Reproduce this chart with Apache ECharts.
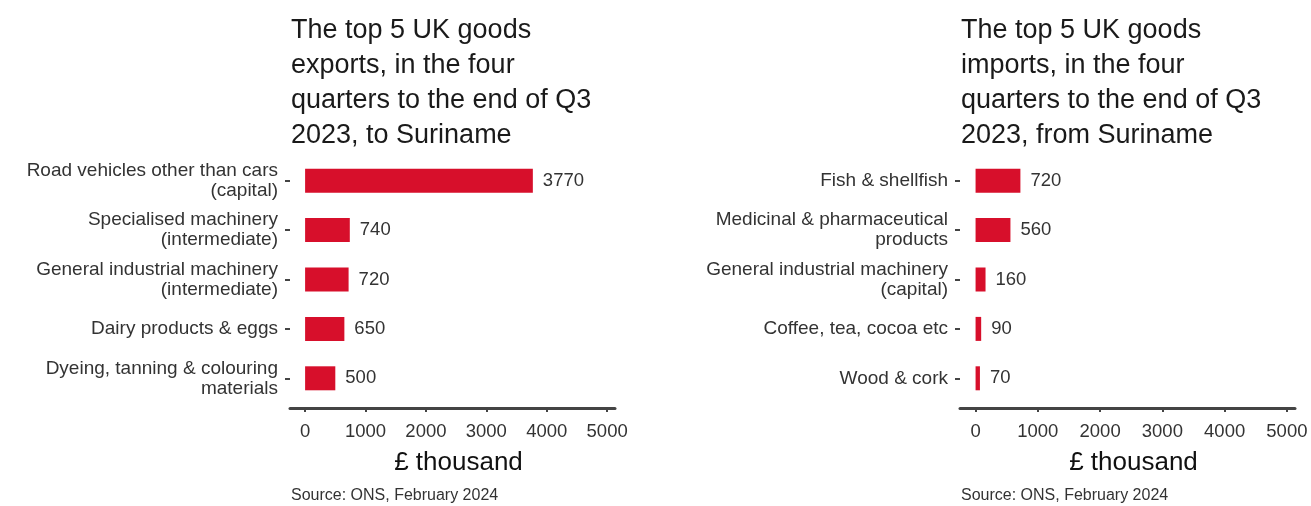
<!DOCTYPE html>
<html>
<head>
<meta charset="utf-8">
<script src="https://cdn.jsdelivr.net/npm/echarts@6/dist/echarts.min.js"></script>
<style>
  html, body { margin: 0; padding: 0; background: #fff; }
  #chart { width: 1311px; height: 506px; }
</style>
</head>
<body>
<div id="chart"></div>
<script>
// exports (left panel)
const exportCategories = [
  'Road vehicles other than cars\n(capital)',
  'Specialised machinery\n(intermediate)',
  'General industrial machinery\n(intermediate)',
  'Dairy products & eggs',
  'Dyeing, tanning & colouring\nmaterials'
];
const exportValues = [3770, 740, 720, 650, 500];

// imports (right panel)
const importCategories = [
  'Fish & shellfish',
  'Medicinal & pharmaceutical\nproducts',
  'General industrial machinery\n(capital)',
  'Coffee, tea, cocoa etc',
  'Wood & cork'
];
const importValues = [720, 560, 160, 90, 70];

const tickValues = [0, 1000, 2000, 3000, 4000, 5000];
const axisTitle = '£ thousand';
const exportTitle = 'The top 5 UK goods\nexports, in the four\nquarters to the end of Q3\n2023, to Suriname';
const importTitle = 'The top 5 UK goods\nimports, in the four\nquarters to the end of Q3\n2023, from Suriname';
const sourceText = 'Source: ONS, February 2024';

const FONT = '"Liberation Sans", Arial, sans-serif';
const RED = '#d70f2b';

function valueAxis(gridIndex) {
  return {
    type: 'value',
    gridIndex: gridIndex,
    min: -250,
    max: 5130,
    offset: 5,
    splitLine: { show: false },
    axisLine: { show: true, lineStyle: { color: '#444', width: 3 } },
    axisTick: { show: true, customValues: tickValues, length: 4, lineStyle: { color: '#444', width: 2 } },
    axisLabel: {
      customValues: tickValues, color: '#333', fontSize: 18.5, fontFamily: FONT, margin: 14,
      formatter: v => String(v)
    },
    name: axisTitle,
    nameLocation: 'middle',
    nameGap: 42,
    nameTextStyle: { color: '#111', fontSize: 26, fontFamily: FONT, padding: [0, 0, 0, 12] }
  };
}

function catAxis(gridIndex, cats) {
  return {
    type: 'category',
    gridIndex: gridIndex,
    data: cats,
    inverse: true,
    axisLine: { show: false, onZero: false },
    axisTick: { show: true, alignWithLabel: true, length: 5, lineStyle: { color: '#444', width: 2 } },
    axisLabel: { color: '#333', fontSize: 19, fontFamily: FONT, lineHeight: 20, margin: 12, align: 'right' }
  };
}

function barSeries(idx, values) {
  return {
    type: 'bar',
    xAxisIndex: idx,
    yAxisIndex: idx,
    data: values,
    barWidth: 24,
    itemStyle: { color: RED },
    label: { show: true, position: 'right', distance: 10, color: '#333', fontSize: 18.5, fontFamily: FONT }
  };
}

const titleStyle = { fontSize: 27, lineHeight: 35, fontWeight: 'normal', color: '#1a1a1a', fontFamily: FONT };
const sourceStyle = { fontSize: 16, fontWeight: 'normal', color: '#333', fontFamily: FONT };

const chart = echarts.init(document.getElementById('chart'));
chart.setOption({
  backgroundColor: '#fff',
  animation: false,
  title: [
    { text: exportTitle, left: 291, top: 13, padding: 0, textStyle: titleStyle },
    { text: importTitle, left: 961, top: 13, padding: 0, textStyle: titleStyle },
    { text: sourceText, left: 291, top: 488, padding: 0, textStyle: sourceStyle },
    { text: sourceText, left: 961, top: 488, padding: 0, textStyle: sourceStyle }
  ],
  grid: [
    { left: 290, width: 325, top: 156, height: 247 },
    { left: 960, width: 335, top: 156, height: 247 }
  ],
  xAxis: [valueAxis(0), valueAxis(1)],
  yAxis: [catAxis(0, exportCategories), catAxis(1, importCategories)],
  series: [barSeries(0, exportValues), barSeries(1, importValues)]
});
</script>
</body>
</html>
